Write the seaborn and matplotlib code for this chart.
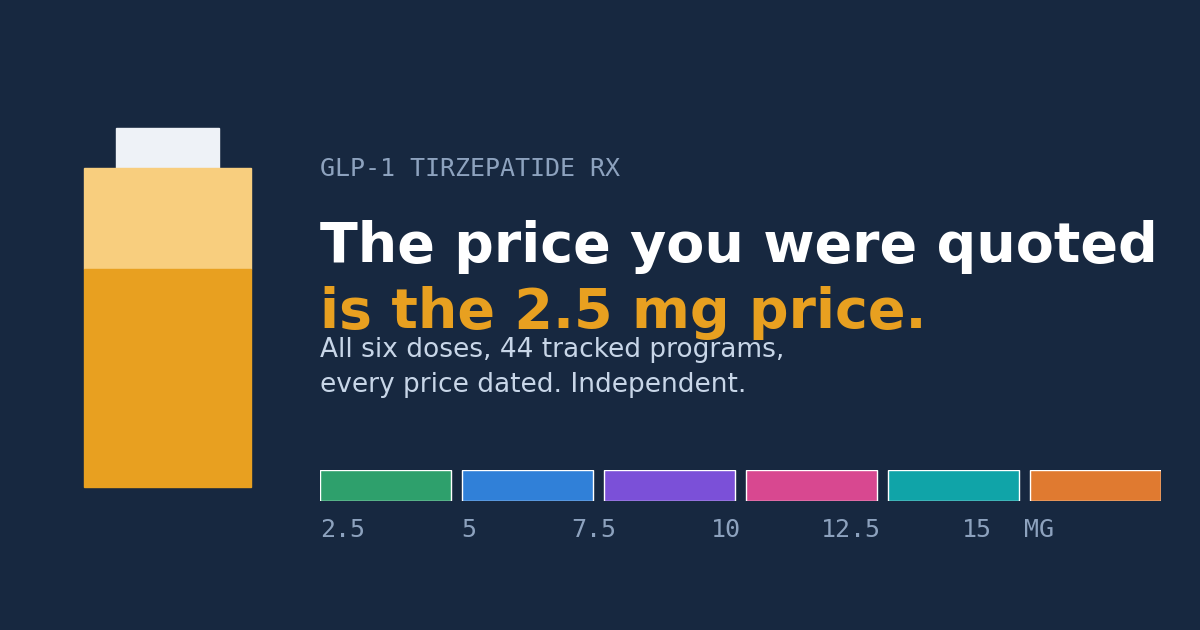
import matplotlib.pyplot as plt
import seaborn as sns
import pandas as pd
from matplotlib.patches import Rectangle

sns.set_theme(style="white")
plt.rcParams["font.family"] = ["DejaVu Sans"]

BG = "#172840"
eyebrow = "GLP-1 TIRZEPATIDE RX"
title_1 = "The price you were quoted"
title_2 = "is the 2.5 mg price."
subtitle = "All six doses, 44 tracked programs,\nevery price dated. Independent."
doses = ["2.5", "5", "7.5", "10", "12.5", "15"]
dose_colors = ["#2EA06C", "#3080D8", "#7B50D8", "#D84890", "#10A4A8", "#E07A30"]
unit = "MG"

W, H = 1200, 630
fig = plt.figure(figsize=(12, 6.3), dpi=100, facecolor=BG)

# full-figure canvas in pixel units (y down)
bg = fig.add_axes([0, 0, 1, 1])
bg.set_xlim(0, W)
bg.set_ylim(H, 0)
bg.axis("off")
bg.set_facecolor(BG)

# vial
bg.add_patch(Rectangle((116, 128), 103, 41, color="#EEF2F7"))
bg.add_patch(Rectangle((84, 168), 167, 101, color="#F8CE7E"))
bg.add_patch(Rectangle((84, 269), 167, 218, color="#E8A020"))

bg.text(320, 176, eyebrow, family="DejaVu Sans Mono", fontsize=18, color="#8DA2BE", va="baseline")
bg.text(320, 262, title_1, fontsize=40, weight="bold", color="white", va="baseline")
bg.text(320, 328, title_2, fontsize=40, weight="bold", color="#E8A020", va="baseline")
bg.text(320, 392, subtitle, fontsize=19, color="#C8D6E8", va="baseline", linespacing=1.45)

# dose strip
slot, bw = 142, 131
w = bw / slot
x0, x1 = 320, 320 + 5 * slot + bw
strip = fig.add_axes([x0 / W, 1 - 501 / H, (x1 - x0) / W, 31 / H])
df = pd.DataFrame({"dose": doses, "v": [1] * len(doses)})
sns.barplot(data=df, x="dose", y="v", hue="dose", palette=dose_colors, width=w,
            legend=False, ax=strip, saturation=1)
strip.set_xlim(-w / 2, len(doses) - 1 + w / 2)
strip.set_ylim(0, 1)
strip.axis("off")

label_x = [320, 461, 571, 711, 821, 962]
for x, d in zip(label_x, doses):
    bg.text(x, 537, d, family="DejaVu Sans Mono", fontsize=18, color="#8DA2BE", va="baseline")
bg.text(1024, 537, unit, family="DejaVu Sans Mono", fontsize=18, color="#8DA2BE", va="baseline")

fig.savefig("out.png", facecolor=BG)
